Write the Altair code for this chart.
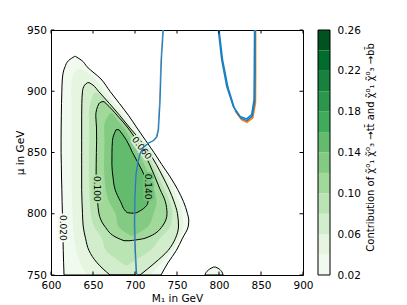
import altair as alt
import pandas as pd

# ---------------- data ----------------
x_ticks = [600, 650, 700, 750, 800, 850, 900]
y_ticks = [750, 800, 850, 900, 950]
cbar_lo = [0.02, 0.04, 0.06, 0.08, 0.10, 0.12, 0.14, 0.16, 0.18, 0.20, 0.22, 0.24]
cbar_hi = [0.04, 0.06, 0.08, 0.10, 0.12, 0.14, 0.16, 0.18, 0.20, 0.22, 0.24, 0.26]
cbar_ticks = [0.02, 0.06, 0.10, 0.14, 0.18, 0.22, 0.26]

# filled contour regions: for each mu, the M1 range inside the level
c020_mu = [750, 760, 770, 780, 790, 795, 800, 810, 820, 830, 840, 850, 860, 870, 880, 890, 900, 910, 920, 925, 928.5]
c020_lo = [615.5, 615.0, 614.6, 614.3, 613.9, 613.7, 613.6, 613.2, 612.9, 612.5, 612.3, 612.0, 612.0, 612.1, 612.3, 612.5, 612.9, 613.5, 616.7, 620.8, 628.2]
c020_hi = [731.0, 739.3, 749.2, 756.5, 763.5, 764.0, 762.5, 757.7, 750.6, 742.0, 732.1, 722.6, 712.5, 702.4, 692.6, 681.5, 670.2, 659.5, 642.9, 636.9, 629.0]

c040_mu = [750, 760, 770, 780, 790, 800, 810, 820, 830, 840, 850, 860, 870, 880, 890, 900, 910, 915, 918]
c040_lo = [642.9, 634.9, 630.0, 627.7, 626.2, 625.6, 625.0, 624.8, 624.5, 624.4, 624.3, 624.3, 624.4, 624.4, 624.6, 624.0, 624.8, 627.5, 632.0]
c040_hi = [718.5, 731.5, 744.3, 752.4, 757.6, 756.5, 752.1, 745.6, 737.7, 728.9, 719.6, 709.4, 698.2, 687.4, 675.6, 663.5, 652.0, 644.0, 636.0]

c060_mu = [750, 760, 770, 780, 790, 800, 810, 820, 830, 840, 850, 860, 870, 880, 890, 900, 905, 907]
c060_lo = [670.2, 654.8, 645.2, 641.1, 638.3, 637.5, 636.9, 636.5, 636.5, 636.5, 636.5, 636.5, 636.5, 636.5, 636.7, 637.5, 640.0, 643.5]
c060_hi = [706.0, 723.8, 739.3, 748.2, 751.8, 750.6, 746.4, 740.5, 733.3, 725.6, 716.7, 706.3, 694.0, 682.1, 669.6, 656.5, 650.0, 645.5]

c080_mu = [758, 762, 770, 780, 790, 800, 810, 820, 830, 840, 850, 860, 870, 880, 890, 896, 899]
c080_lo = [688.1, 679.8, 665.5, 660.5, 651.1, 647.4, 646.2, 645.5, 645.1, 645.2, 645.2, 645.5, 645.4, 645.0, 646.9, 649.5, 652.0]
c080_hi = [690.5, 700.0, 717.9, 729.8, 742.3, 744.4, 741.3, 735.1, 728.6, 721.7, 713.6, 704.0, 692.9, 680.7, 667.6, 660.0, 655.0]

c100_mu = [778, 780, 790, 800, 810, 820, 830, 840, 850, 860, 870, 880, 890, 891.5]
c100_lo = [686.9, 679.8, 663.7, 657.1, 655.5, 654.4, 653.7, 653.8, 654.0, 654.3, 654.2, 653.3, 657.1, 660.7]
c100_hi = [694.0, 711.9, 732.7, 738.1, 736.1, 729.8, 723.8, 717.6, 710.5, 701.8, 691.7, 679.2, 665.5, 663.1]

c120_mu = [782, 785, 790, 800, 810, 820, 830, 840, 850, 860, 870, 880, 882]
c120_lo = [695.2, 688.1, 679.8, 676.8, 669.0, 665.2, 663.7, 663.1, 663.3, 663.7, 663.1, 667.9, 670.0]
c120_hi = [697.6, 706.0, 716.0, 722.0, 725.8, 722.6, 717.9, 711.2, 703.8, 695.8, 686.9, 675.0, 673.0]

c140_mu = [800.5, 801, 810, 820, 830, 840, 850, 860, 868.6]
c140_lo = [696.4, 690.5, 682.7, 676.2, 673.8, 672.5, 672.6, 673.2, 677.4]
c140_hi = [698.8, 702.4, 715.5, 715.5, 711.9, 704.8, 697.0, 689.9, 681.0]

bump_mu = [750, 753, 755.5, 756.5]
bump_lo = [783.3, 785.7, 790.5, 793.5]
bump_hi = [804.8, 803.0, 798.8, 795.8]

# contour labels
lab_text = ["0.020", "0.100", "0.140"]
lab_m1 = [614.7, 654.4, 715.9]
lab_mu = [788.5, 820.3, 822.2]
diag_text = ["0.060"]
diag_m1 = [708.0]
diag_mu = [853.6]

# blue / orange curves
bl_m1 = [733.7, 731.5, 729.8, 728.0, 726.2, 722.6, 716.7, 710.7, 706.5, 703.6, 701.2, 700.0, 699.6, 700.4, 702.0]
bl_mu = [950, 925.9, 890.7, 868.6, 862.9, 860.0, 858.0, 854.7, 849.8, 842.4, 831.8, 813.8, 792.5, 770.4, 750]
ol_m1 = [733.0, 730.8, 729.1, 727.3, 725.2, 721.6, 715.9, 709.9, 705.7, 702.8, 700.4, 699.3, 698.9, 699.7, 701.3]
ol_mu = [950, 925.9, 890.7, 868.6, 862.7, 859.6, 857.5, 854.0, 849.0, 841.8, 831.3, 813.3, 792.2, 770.2, 750]

bu_m1 = [799.2, 803.2, 809.2, 817.0, 825.0, 833.0, 838.9, 841.7, 842.0, 842.3]
bu_mu = [950, 925.9, 904.0, 887.7, 879.5, 877.4, 880.9, 893.1, 917.6, 950]
bu2_m1 = [800.0, 804.2, 810.7, 818.5, 826.2, 833.3, 839.6, 842.6, 842.9, 842.9]
bu2_mu = [950, 925.9, 903.0, 885.8, 878.0, 876.0, 879.7, 892.3, 917.6, 950]
ou_m1 = [819.0, 826.8, 833.3, 840.2, 843.4, 843.6, 843.6]
ou_mu = [884.0, 876.8, 874.7, 878.4, 890.7, 913.6, 950]

# ---------------- styles ----------------
band_colors = ["#f1faee", "#e5f5e0", "#d1edcb", "#bae4b4", "#a1d99b", "#83cb82",
               "#63bc6e", "#41ab5d", "#2d964d", "#17813d", "#006d2c", "#005221"]
BLUE = "#1a7fc2"
ORANGE = "#ff7f0e"
FONT = "DejaVu Sans"
W, H = 252, 245

xscale = alt.Scale(domain=[600, 900], nice=False, zero=False)
yscale = alt.Scale(domain=[750, 950], nice=False, zero=False)
xaxis = alt.Axis(values=x_ticks, format="d", title="M₁ in GeV", labelFlush=False,
                 labelPadding=5.5, titlePadding=2, tickSize=0, ticks=False, domain=False, grid=False)
yaxis = alt.Axis(values=y_ticks, format="d", title="μ in GeV", orient="left",
                 labelPadding=4.5, titlePadding=1, tickSize=0, ticks=False, domain=False, grid=False)


def region(mu, lo, hi, color=None, outline=False):
    df = pd.DataFrame({"mu": mu, "lo": lo, "hi": hi})
    if outline:
        mk = alt.Chart(df).mark_area(orient="horizontal", interpolate="monotone",
                                     fillOpacity=0, stroke="black", strokeWidth=1, clip=True)
    else:
        mk = alt.Chart(df).mark_area(orient="horizontal", interpolate="monotone",
                                     color=color, opacity=1, clip=True)
    return mk.encode(
        y=alt.Y("mu:Q", scale=yscale, axis=yaxis),
        x=alt.X("lo:Q", scale=xscale, axis=xaxis),
        x2="hi:Q",
    )


def path(m1, mu, color, width):
    df = pd.DataFrame({"m1": m1, "mu": mu, "i": list(range(len(m1)))})
    return alt.Chart(df).mark_line(color=color, strokeWidth=width, clip=True).encode(
        x=alt.X("m1:Q", scale=xscale, axis=xaxis),
        y=alt.Y("mu:Q", scale=yscale, axis=yaxis),
        order="i:Q",
    )


levels = [
    (c020_mu, c020_lo, c020_hi),
    (c040_mu, c040_lo, c040_hi),
    (c060_mu, c060_lo, c060_hi),
    (c080_mu, c080_lo, c080_hi),
    (c100_mu, c100_lo, c100_hi),
    (c120_mu, c120_lo, c120_hi),
    (c140_mu, c140_lo, c140_hi),
]
fills = [region(m, l, h, band_colors[k]) for k, (m, l, h) in enumerate(levels)]
fills.append(region(bump_mu, bump_lo, bump_hi, band_colors[0]))

lines = [region(m, l, h, outline=True) for k, (m, l, h) in enumerate(levels) if k % 2 == 0]
lines.append(region(bump_mu, bump_lo, bump_hi, outline=True))

# contour labels with halo in local fill colour
halo_cols = ["#f4fbf2", "#aedfa8", "#73c478"]
labels = []
for k in range(len(lab_text)):
    df = pd.DataFrame({"t": [lab_text[k]], "m1": [lab_m1[k]], "mu": [lab_mu[k]]})
    base = alt.Chart(df).encode(x=alt.X("m1:Q", scale=xscale, axis=xaxis),
                                y=alt.Y("mu:Q", scale=yscale, axis=yaxis), text="t:N")
    labels.append(base.mark_text(angle=90, font=FONT, fontSize=9, stroke=halo_cols[k], strokeWidth=4,
                                 align="center", baseline="middle"))
    labels.append(base.mark_text(angle=90, font=FONT, fontSize=9, color="black",
                                 align="center", baseline="middle"))
dfd = pd.DataFrame({"t": diag_text, "m1": diag_m1, "mu": diag_mu})
based = alt.Chart(dfd).encode(x=alt.X("m1:Q", scale=xscale, axis=xaxis),
                              y=alt.Y("mu:Q", scale=yscale, axis=yaxis), text="t:N")
labels.append(based.mark_text(angle=53, font=FONT, fontSize=9, stroke="#dbf1d5", strokeWidth=4,
                              align="center", baseline="middle"))
labels.append(based.mark_text(angle=53, font=FONT, fontSize=9, color="black",
                              align="center", baseline="middle"))

curves = [
    path(ol_m1, ol_mu, "#8a8f99", 0.9),
    path(bl_m1, bl_mu, BLUE, 1.2),
    path(ou_m1, ou_mu, ORANGE, 1.6),
    path(bu2_m1, bu2_mu, BLUE, 1.5),
    path(bu_m1, bu_mu, BLUE, 1.5),
]

# inward ticks
tx = pd.DataFrame({"v": x_ticks})
ty = pd.DataFrame({"v": y_ticks})
ticks = [
    alt.Chart(tx).mark_rule(color="black", strokeWidth=1).encode(
        x=alt.X("v:Q", scale=xscale, axis=xaxis), y=alt.value(0), y2=alt.value(3.5)),
    alt.Chart(tx).mark_rule(color="black", strokeWidth=1).encode(
        x=alt.X("v:Q", scale=xscale, axis=xaxis), y=alt.value(H), y2=alt.value(H - 3.5)),
    alt.Chart(ty).mark_rule(color="black", strokeWidth=1).encode(
        y=alt.Y("v:Q", scale=yscale, axis=yaxis), x=alt.value(0), x2=alt.value(3.5)),
    alt.Chart(ty).mark_rule(color="black", strokeWidth=1).encode(
        y=alt.Y("v:Q", scale=yscale, axis=yaxis), x=alt.value(W), x2=alt.value(W - 3.5)),
]

main = alt.layer(*fills, *lines, *labels, *curves, *ticks)

# colour bar
cscale = alt.Scale(domain=[0.02, 0.26], nice=False, zero=False)
caxis = alt.Axis(values=cbar_ticks, format=".2f", orient="right", offset=27,
                 labelPadding=7, tickSize=0, ticks=False, domain=False, grid=False,
                 title="Contribution of χ̃⁰₁ χ̃⁰₃ →tt̄ and χ̃⁰₁ χ̃⁰₃ →bb̄",
                 titleAngle=270, titleBaseline="top", titlePadding=5,
                 titleFontSize=10, titleY=117)
cb = pd.DataFrame({"lo": cbar_lo, "hi": cbar_hi, "band": [str(i) for i in range(len(cbar_lo))]})
cbar_rects = alt.Chart(cb).mark_rect().encode(
    x=alt.value(267), x2=alt.value(279),
    y=alt.Y("lo:Q", scale=cscale, axis=caxis), y2="hi:Q",
    fill=alt.Fill("band:N", scale=alt.Scale(domain=[str(i) for i in range(len(cbar_lo))], range=band_colors),
                  legend=None),
)
cbar_box = alt.Chart(pd.DataFrame({"lo": [cbar_lo[0]], "hi": [cbar_hi[-1]]})).mark_rect(
    fillOpacity=0, stroke="black", strokeWidth=1).encode(
    x=alt.value(267), x2=alt.value(279),
    y=alt.Y("lo:Q", scale=cscale, axis=caxis), y2="hi:Q",
)
cbar = alt.layer(cbar_rects, cbar_box)

chart = alt.layer(main, cbar).resolve_scale(y="independent").properties(
    width=W, height=H,
    padding={"left": 43, "top": 22, "right": 96, "bottom": 29},
    autosize=alt.AutoSizeParams(type="none"),
).configure_view(stroke="black", strokeWidth=1).configure_axis(
    labelFont=FONT, titleFont=FONT, labelFontSize=10.5, titleFontSize=10.5,
    labelColor="black", titleColor="black", titleFontWeight="normal",
)

chart.save("out.html", embed_options={"renderer": "svg", "actions": False})
